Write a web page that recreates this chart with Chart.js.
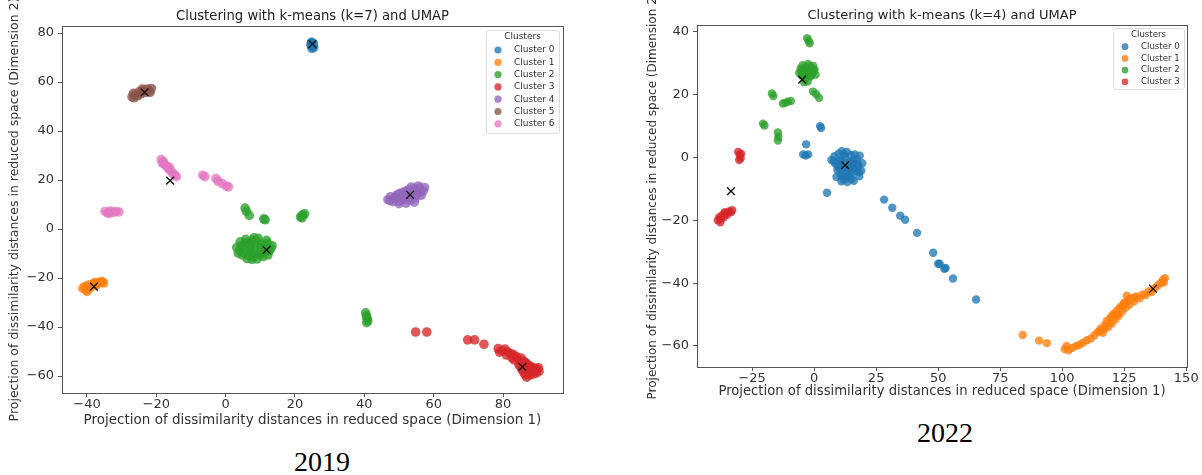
<!DOCTYPE html>
<html>
<head>
<meta charset="utf-8">
<script src="https://cdn.jsdelivr.net/npm/chart.js@4.4.1/dist/chart.umd.min.js"></script>
<style>
  body { margin: 0; background: #fff; width: 1202px; height: 475px; position: relative; overflow: hidden; }
  canvas { position: absolute; top: 0; }
  .cap { position: absolute; font-family: "Liberation Serif", "Times New Roman", serif; font-size: 28px; color: #000; transform: translate(-50%, -50%); }
</style>
</head>
<body>
<canvas id="c2019" width="600" height="440" style="left:0"></canvas>
<canvas id="c2022" width="582" height="410" style="left:620px"></canvas>
<div class="cap" style="left:322px;top:462px">2019</div>
<div class="cap" style="left:945px;top:433px">2022</div>
<script>
// ---- data ----
const labels2019 = ["Cluster 0", "Cluster 1", "Cluster 2", "Cluster 3", "Cluster 4", "Cluster 5", "Cluster 6"];
const labels2022 = ["Cluster 0", "Cluster 1", "Cluster 2", "Cluster 3"];

const cluster0_2019 = [[24.8,76.2],[25.3,75.8],[24.6,75.0],[25.1,74.6],[24.9,73.8],[25.4,74.2],[24.7,76.0]];
const cluster1_2019 = [[-41.2,-24.2],[-40.6,-23.4],[-40.2,-24.8],[-39.6,-22.8],[-39.2,-24.0],[-38.6,-23.2],[-38.0,-22.4],
  [-37.4,-23.0],[-36.8,-22.0],[-36.2,-21.6],[-35.6,-21.4],[-35.2,-22.0],[-40.0,-25.4],[-37.8,-21.8]];
const cluster2_2019 = [[3.2,-7.5],[4.0,-8.8],[4.5,-6.8],[5.2,-9.5],[5.5,-7.2],[6.0,-5.5],[6.5,-10.8],[7.0,-8.2],[7.2,-6.0],
  [7.8,-4.5],[8.0,-11.2],[8.5,-9.0],[8.8,-7.0],[9.2,-5.2],[9.6,-10.5],[10.0,-8.0],[10.5,-6.2],[11.0,-9.6],[11.5,-7.6],
  [12.0,-5.8],[12.5,-9.0],[13.0,-8.0],[6.2,-12.0],[9.0,-12.2],[4.8,-10.6],[10.8,-11.2],[8.2,-3.6],[13.4,-6.8],
  [4.2,-5.2],[5.8,-4.2],[7.4,-9.8],[9.4,-3.8],[11.8,-4.6],[12.2,-10.6],[3.6,-9.8],[6.8,-7.0],[10.2,-9.8],[7.6,-12.4],
  [5.6,8.6],[6.0,7.2],[6.8,5.6],[11.0,4.2],[11.4,3.8],[21.6,5.0],[22.2,5.8],[22.8,6.2],[22.0,4.6],
  [40.4,-34.2],[40.6,-35.4],[40.8,-36.4],[41.0,-37.4],[40.7,-38.2]];
const cluster3_2019 = [[54.8,-42.0],[58.0,-42.0],[69.8,-45.2],[71.8,-45.2],[74.5,-47.0],[78.6,-48.8],[79.8,-49.6],[80.6,-49.0],
  [81.4,-50.2],[82.2,-50.8],[83.0,-51.2],[83.8,-52.0],[84.4,-53.2],[85.2,-52.6],[86.0,-54.0],[86.6,-54.6],[87.2,-55.4],
  [88.0,-56.0],[88.8,-56.6],[89.6,-57.0],[90.2,-56.6],[90.4,-58.0],[89.6,-58.8],[88.6,-59.2],[87.6,-59.6],[86.8,-60.4],
  [86.0,-58.6],[85.4,-57.2],[87.0,-57.8],[88.6,-57.6],[84.6,-55.4],[79.0,-50.2],[82.6,-52.6],
  [87.8,-58.2],[89.0,-58.0],[86.4,-59.4],[85.0,-55.8],[83.2,-53.4],[81.0,-51.4]];
const cluster4_2019 = [[46.8,12.0],[47.6,13.2],[48.2,11.2],[48.8,12.6],[49.4,14.0],[50.0,11.4],[50.6,13.0],[51.2,15.0],
  [51.6,12.0],[52.2,13.8],[52.8,16.0],[53.2,11.8],[53.8,14.6],[54.4,16.6],[54.8,12.8],[55.4,15.0],[56.0,16.8],[56.4,13.8],
  [57.0,15.6],[57.4,17.0],[55.6,17.6],[53.6,17.2],[50.0,10.4],[52.0,10.6],[54.4,11.0],
  [49.0,13.0],[51.0,12.0],[53.0,13.0],[55.0,14.0],[52.0,15.5],[54.0,15.5],[50.2,14.6],[56.2,15.0],[47.4,11.6]];
const cluster5_2019 = [[-27.0,54.0],[-26.4,53.6],[-26.0,55.0],[-25.4,54.4],[-25.0,56.0],[-24.4,55.2],[-23.8,56.6],
  [-23.2,55.8],[-22.6,57.2],[-22.0,56.4],[-21.4,57.4],[-21.8,55.8],[-24.0,57.2],[-26.6,55.4]];
const cluster6_2019 = [[-34.8,7.2],[-34.0,6.6],[-33.2,7.4],[-32.4,6.8],[-31.6,7.2],[-30.8,7.0],[-33.6,6.4],
  [-18.6,28.4],[-18.0,27.6],[-17.6,26.4],[-17.0,25.6],[-16.6,24.8],[-16.0,24.0],[-15.4,23.0],[-14.8,22.2],[-14.2,21.4],
  [-18.2,26.8],[-16.2,25.2],[-6.6,22.0],[-6.0,21.4],[-2.8,20.6],[-2.2,19.6],[-1.0,18.6],[0.2,17.6],[0.8,17.2]];
const centroids2019 = [[25.0,75.5],[-38.0,-23.5],[11.8,-8.5],[85.6,-56.2],[53.2,14.0],[-23.4,55.8],[-16.0,19.8]];

const cluster0_2022 = [[2.4,10.0],[2.8,9.4],[-3.2,4.2],[-4.4,1.0],[-3.4,0.6],[-2.4,1.0],
  [7.0,-0.8],[8.2,0.4],[8.6,-2.0],[9.4,-4.0],[9.8,1.2],[10.4,-1.0],[10.8,-5.6],[11.2,2.0],[11.6,-3.2],[12.0,-7.0],
  [12.4,0.2],[12.8,-4.6],[13.2,1.8],[13.6,-1.6],[14.0,-6.2],[14.4,-3.0],[14.8,0.8],[15.2,-5.0],[15.6,-2.2],[16.0,-7.4],
  [16.4,1.0],[16.8,-4.2],[17.2,-0.6],[17.8,-2.8],[18.4,0.6],[19.0,-4.2],[19.4,-1.8],[11.0,-7.6],[13.4,-7.8],[9.0,-6.2],[18.2,-6.0],
  [9.6,-2.6],[11.0,-1.2],[12.6,-3.2],[14.2,-4.4],[15.8,-0.8],[13.0,-5.8],[10.2,-3.6],[16.0,-3.4],[12.0,1.0],[14.6,-1.4],
  [17.4,-2.0],[11.4,-6.0],[15.0,-6.8],[8.0,-1.2],[18.0,-4.6],
  [5.2,-11.2],[28.2,-13.4],[31.5,-16.0],[34.7,-18.5],[36.7,-19.8],[41.5,-24.0],[48.0,-30.3],[50.0,-33.8],[50.6,-33.8],
  [52.5,-35.4],[53.0,-35.2],[56.0,-38.5],[65.3,-45.2]];
const cluster1_2022 = [[84.1,-56.5],[90.7,-58.3],[93.8,-59.1],
  [101.0,-61.0],[101.8,-60.0],[102.6,-61.4],[104.0,-60.6],[105.6,-60.0],[107.0,-59.6],[108.4,-59.0],[110.0,-58.2],
  [111.6,-57.6],[113.0,-56.6],[114.4,-55.6],[115.6,-54.4],[116.4,-55.8],[117.2,-53.2],[118.0,-52.0],[118.6,-54.0],
  [119.4,-51.0],[120.0,-52.8],[120.6,-49.8],[121.4,-51.6],[122.0,-48.8],[122.8,-50.4],[123.4,-47.6],[124.2,-49.0],
  [124.8,-46.6],[125.6,-47.8],[126.4,-45.6],[127.2,-46.8],[128.0,-44.8],[129.0,-45.8],[130.0,-44.2],[131.2,-44.8],
  [132.4,-43.6],[133.6,-43.8],[134.8,-42.6],[136.0,-42.8],[137.2,-41.6],[138.4,-40.8],[139.6,-40.0],[140.6,-39.0],
  [141.4,-38.4],[141.0,-39.8],[126.0,-44.0],[120.0,-50.6],
  [117.0,-54.6],[119.0,-52.6],[121.0,-50.2],[123.0,-48.2],[125.0,-46.2],[127.0,-45.2],[115.0,-55.2],[129.0,-44.6],
  [122.2,-50.0],[124.4,-47.4]];
const cluster2_2022 = [[-2.8,38.0],[-2.2,37.2],[-1.8,36.4],
  [-6.0,27.0],[-5.4,28.4],[-5.0,26.0],[-4.6,29.4],[-4.2,27.4],[-3.6,25.0],[-3.4,28.8],[-3.0,26.6],[-2.4,29.8],
  [-2.0,27.8],[-1.6,25.8],[-1.2,28.6],[-0.8,27.0],[-0.4,29.2],[0.2,28.0],[0.6,26.4],[-4.0,24.0],[-2.6,24.2],
  [-4.4,26.2],[-2.6,27.0],[-1.0,26.2],[-3.6,27.2],[-1.8,29.0],[-5.2,27.6],[-0.2,27.4],
  [-17.0,20.4],[-16.4,19.6],[-12.6,17.2],[-11.6,17.4],[-10.6,17.8],[-9.4,18.0],[-0.4,21.0],[0.8,20.2],[2.0,19.0],
  [-20.6,10.8],[-20.0,10.2],[-14.6,8.0],[-14.4,6.6],[-14.6,5.4]];
const cluster3_2022 = [[-30.6,1.8],[-30.0,0.8],[-29.6,-0.2],[-30.2,-0.8],[-29.4,1.2],
  [-38.8,-20.0],[-38.2,-19.0],[-37.6,-19.6],[-37.0,-18.4],[-36.4,-19.0],[-35.8,-17.8],[-35.0,-18.2],[-34.4,-17.2],
  [-33.6,-17.4],[-33.0,-16.8],[-37.8,-20.6],[-36.0,-17.4]];
const centroids2022 = [[12.5,-2.4],[136.6,-41.8],[-4.8,24.8],[-33.5,-10.7]];

const xTicksStep2019 = 20, yTicksStep2019 = 20;
const xTicksStep2022 = 25, yTicksStep2022 = 20;

// ---- styling ----
const clusterColors = ["31,119,180", "255,127,14", "44,160,44", "214,39,40", "148,103,189", "140,86,75", "227,119,194"];
const FONT = '"DejaVu Sans", sans-serif';

function makeDatasets(labels, clusters, centroids, radius) {
  const sets = clusters.map((pts, i) => ({
    label: labels[i],
    data: pts.map(p => ({ x: p[0], y: p[1] })),
    backgroundColor: `rgba(${clusterColors[i]},0.78)`,
    borderWidth: 0,
    pointRadius: radius,
  }));
  sets.push({
    label: "centroids",
    centroid: true,
    order: -1,
    data: centroids.map(p => ({ x: p[0], y: p[1] })),
    pointStyle: "crossRot",
    pointRadius: 5.5,
    borderColor: "#111",
    borderWidth: 1.3,
  });
  return sets;
}

// title centred over the plot area, box frame and the in-plot "Clusters" legend
const clusterLegend = {
  id: "clusterLegend",
  afterDraw(chart, args, o) {
    const ca = chart.chartArea, ctx = chart.ctx;
    ctx.save();
    ctx.font = `${o.titleSize}px ${FONT}`;
    ctx.fillStyle = "#222";
    ctx.textAlign = "center";
    ctx.textBaseline = "middle";
    ctx.fillText(o.title, (ca.left + ca.right) / 2, o.titleY);

    ctx.strokeStyle = "#555";
    ctx.lineWidth = 1;
    ctx.strokeRect(Math.round(ca.left) + 0.5, Math.round(ca.top) + 0.5, Math.round(ca.right - ca.left), Math.round(ca.bottom - ca.top));

    const sets = chart.data.datasets.filter(d => !d.centroid);
    const x0 = ca.right - o.margin - o.width, y0 = ca.top + o.margin;
    const h = o.firstOff + (sets.length - 1) * o.rowH + o.bottomPad;
    ctx.beginPath();
    ctx.roundRect(x0 + 0.5, y0 + 0.5, o.width, h, 2);
    ctx.fillStyle = "rgba(255,255,255,0.85)";
    ctx.fill();
    ctx.strokeStyle = "#dcdcdc";
    ctx.stroke();
    ctx.font = `${o.fontSize}px ${FONT}`;
    ctx.fillStyle = "#333";
    ctx.fillText("Clusters", x0 + o.width / 2, y0 + o.titleOff);
    ctx.textAlign = "left";
    sets.forEach((d, i) => {
      const y = y0 + o.firstOff + i * o.rowH;
      ctx.beginPath();
      ctx.arc(x0 + 12, y, o.dot, 0, Math.PI * 2);
      ctx.fillStyle = d.backgroundColor;
      ctx.fill();
      ctx.fillStyle = "#333";
      ctx.fillText(d.label, x0 + 28, y);
    });
    ctx.restore();
  }
};

const minus = v => String(v).replace("-", "\u2212");

function axis(min, max, step, size, fixed, titleText, titleSize, titlePad, tickPad, isX) {
  return {
    type: "linear",
    min: min,
    max: max,
    ticks: { stepSize: step, includeBounds: false, callback: minus, color: "#333", padding: tickPad, font: { family: FONT, size: size } },
    grid: { drawOnChartArea: false, drawTicks: true, tickLength: 4, tickColor: "#555" },
    border: { display: true, color: "#555" },
    title: { display: true, text: titleText, color: "#333", padding: titlePad, font: { family: FONT, size: titleSize } },
    afterFit: isX ? (s => { s.height = fixed; }) : (s => { s.width = fixed; }),
  };
}

new Chart(document.getElementById("c2019"), {
  type: "scatter",
  data: { datasets: makeDatasets(labels2019, [cluster0_2019, cluster1_2019, cluster2_2019, cluster3_2019, cluster4_2019, cluster5_2019, cluster6_2019], centroids2019, 4.8) },
  options: {
    responsive: false,
    animation: false,
    layout: { padding: { left: 0, right: 37, top: 26, bottom: 0 } },
    plugins: {
      legend: { display: false },
      tooltip: { enabled: false },
      clusterLegend: { title: "Clustering with k-means (k=7) and UMAP", titleSize: 13.2, titleY: 16.5,
        margin: 4, width: 73, titleOff: 7, firstOff: 20, rowH: 12.3, bottomPad: 9, fontSize: 9, dot: 3.6 },
    },
    scales: {
      x: axis(-47.2, 97.3, xTicksStep2019, 13, 47, "Projection of dissimilarity distances in reduced space (Dimension 1)", 13.5, { top: 0, bottom: 11.9 }, 0, true),
      y: axis(-66.9, 82.9, yTicksStep2019, 13, 62, "Projection of dissimilarity distances in reduced space (Dimension 2)", 12.5, { top: 7.5, bottom: 0 }, 4, false),
    },
  },
  plugins: [clusterLegend],
});

new Chart(document.getElementById("c2022"), {
  type: "scatter",
  data: { datasets: makeDatasets(labels2022, [cluster0_2022, cluster1_2022, cluster2_2022, cluster3_2022], centroids2022, 4.2) },
  options: {
    responsive: false,
    animation: false,
    layout: { padding: { left: 0, right: 15, top: 25, bottom: 0 } },
    plugins: {
      legend: { display: false },
      tooltip: { enabled: false },
      clusterLegend: { title: "Clustering with k-means (k=4) and UMAP", titleSize: 13, titleY: 16,
        margin: 3, width: 71, titleOff: 7, firstOff: 18.7, rowH: 11.7, bottomPad: 7, fontSize: 8.6, dot: 3.4 },
    },
    scales: {
      x: axis(-47.2, 150.3, xTicksStep2022, 13, 43, "Projection of dissimilarity distances in reduced space (Dimension 1)", 13.2, { top: 0, bottom: 10.1 }, 0, true),
      y: axis(-66.7, 42.2, yTicksStep2022, 13, 77, "Projection of dissimilarity distances in reduced space (Dimension 2)", 12, { top: 25.8, bottom: 0 }, 4, false),
    },
  },
  plugins: [clusterLegend],
});
</script>
</body>
</html>
